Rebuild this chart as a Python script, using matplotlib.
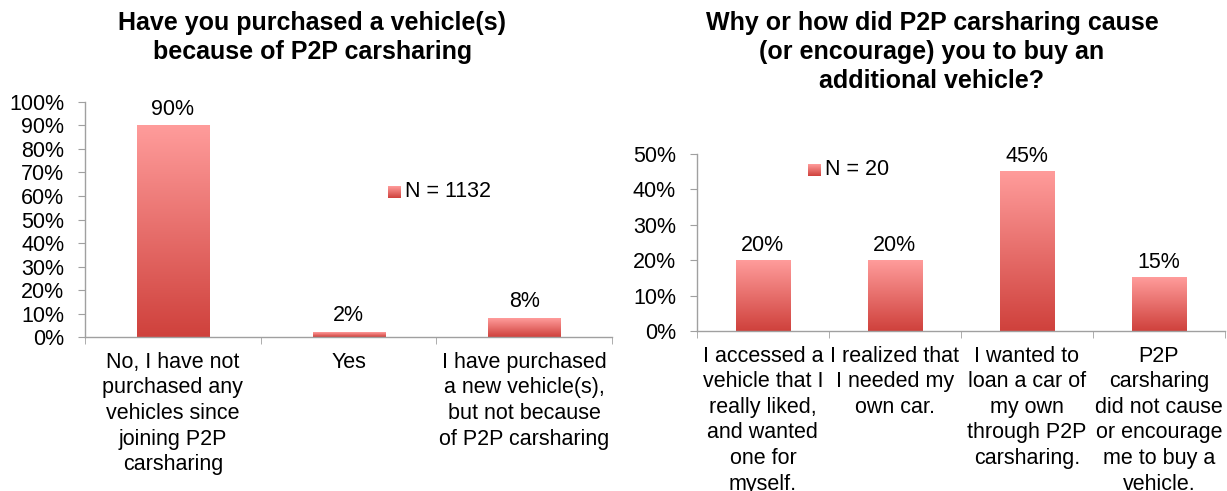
import numpy as np
import matplotlib
matplotlib.use("Agg")
import matplotlib.pyplot as plt
from matplotlib.colors import LinearSegmentedColormap
from matplotlib.ticker import FuncFormatter, FixedLocator

plt.rcParams['font.family'] = ['Liberation Sans', 'DejaVu Sans']

left_title = "Have you purchased a vehicle(s)\nbecause of P2P carsharing"
left_cats = ["No, I have not\npurchased any\nvehicles since\njoining P2P\ncarsharing",
             "Yes",
             "I have purchased\na new vehicle(s),\nbut not because\nof P2P carsharing"]
left_vals = [90, 2, 8]
left_legend = "N = 1132"

right_title = "Why or how did P2P carsharing cause\n(or encourage) you to buy an\nadditional vehicle?"
right_cats = ["I accessed a\nvehicle that I\nreally liked,\nand wanted\none for\nmyself.",
              "I realized that\nI needed my\nown car.",
              "I wanted to\nloan a car of\nmy own\nthrough P2P\ncarsharing.",
              "P2P\ncarsharing\ndid not cause\nor encourage\nme to buy a\nvehicle."]
right_vals = [20, 20, 45, 15]
right_legend = "N = 20"

cmap = LinearSegmentedColormap.from_list("g", ["#CF413C", "#FF9C9B"])
grad = np.linspace(0, 1, 256).reshape(-1, 1)
FS = 15.5

fig = plt.figure(figsize=(12.27, 4.91), dpi=100)

def draw(ax, cats, vals, ymax, ystep, title, legend, leg_pos, title_pos):
    n = len(cats)
    x = np.arange(n)
    bars = ax.bar(x, vals, width=0.41, color="none", edgecolor="none", zorder=2)
    for b, v in zip(bars, vals):
        x0, y0 = b.get_x(), b.get_y()
        w, h = b.get_width(), b.get_height()
        ax.imshow(grad, cmap=cmap, origin="lower", aspect="auto",
                  extent=[x0, x0 + w, y0, y0 + h], zorder=2)
        ax.text(x0 + w / 2, h + ymax * 0.025, f"{v}%",
                ha="center", va="bottom", fontsize=FS)
    ax.set_xlim(-0.5, n - 0.5)
    ax.set_ylim(0, ymax)
    ax.set_yticks(np.arange(0, ymax + 0.1, ystep))
    ax.yaxis.set_major_formatter(FuncFormatter(lambda v, p: f"{v:.0f}%"))
    ax.set_xticks(x)
    ax.set_xticklabels(cats, fontsize=FS, linespacing=1.29, va="top")
    ax.xaxis.set_minor_locator(FixedLocator(np.arange(-0.5, n, 1.0)))
    ax.tick_params(axis="x", which="major", length=0, pad=10.5)
    ax.tick_params(axis="x", which="minor", length=5, color="#A0A0A0", direction="out")
    ax.tick_params(axis="y", labelsize=FS, length=5, color="#A0A0A0", pad=10)
    for s in ["top", "right"]:
        ax.spines[s].set_visible(False)
    for s in ["left", "bottom"]:
        ax.spines[s].set_color("#A0A0A0")
        ax.spines[s].set_linewidth(1.0)
    # legend
    lx, ly = leg_pos
    lax = fig.add_axes([lx, ly - 0.012, 0.0098, 0.0235])
    lax.imshow(grad, cmap=cmap, origin="lower", aspect="auto")
    lax.axis("off")
    fig.text(lx + 0.0135, ly, legend, fontsize=FS, va="center", ha="left")
    fig.text(title_pos[0], title_pos[1], title, fontsize=18, fontweight="bold",
             ha="center", va="top", linespacing=1.27)

ax1 = fig.add_axes([0.0693, 0.3136, 0.4295, 0.4787])
draw(ax1, left_cats, left_vals, 100, 10, left_title, left_legend,
     (0.3162, 0.609), (0.2545, 0.978))

ax2 = fig.add_axes([0.568, 0.3259, 0.4303, 0.3605])
draw(ax2, right_cats, right_vals, 50, 10, right_title, right_legend,
     (0.6585, 0.654), (0.7595, 0.978))

fig.savefig("out.png", dpi=100)
